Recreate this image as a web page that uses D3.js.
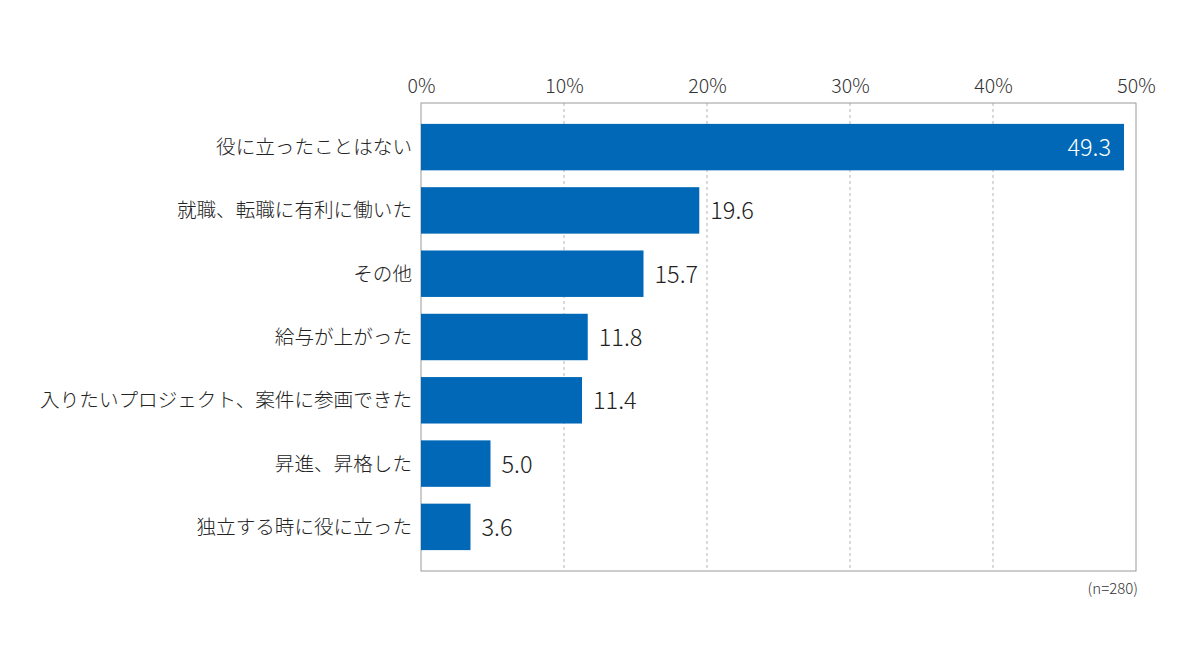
<!DOCTYPE html>
<html>
<head>
<meta charset="utf-8">
<script src="https://cdn.jsdelivr.net/npm/d3@7"></script>
<style>
  body { margin: 0; background: #fff; }
  svg { display: block; font-family: "Noto Sans CJK JP", "Noto Sans", sans-serif; }
</style>
</head>
<body>
<svg id="chart" width="1200" height="658"></svg>
<script>
var categories = [
    "役に立ったことはない",
    "就職、転職に有利に働いた",
    "その他",
    "給与が上がった",
    "入りたいプロジェクト、案件に参画できた",
    "昇進、昇格した",
    "独立する時に役に立った"
];
var values = [49.3, 19.6, 15.7, 11.8, 11.4, 5.0, 3.6];
var tickValues = [0, 10, 20, 30, 40, 50];
var sampleNote = "(n=280)";

var margin = { top: 103, left: 421, right: 64, bottom: 87 };
var width = 1200 - margin.left - margin.right;
var height = 658 - margin.top - margin.bottom;

var svg = d3.select("#chart");
var g = svg.append("g").attr("transform", `translate(${margin.left},${margin.top})`);

var x = d3.scaleLinear().domain([0, 50]).range([0, width]);
var y = d3.scaleBand().domain(categories).range([0, height])
    .paddingInner(0.266).paddingOuter(0.33);

// dashed grid lines
g.selectAll(".grid")
    .data(tickValues.slice(1, -1))
    .enter().append("line")
    .attr("x1", d => x(d)).attr("x2", d => x(d))
    .attr("y1", 0).attr("y2", height)
    .attr("stroke", "#b5b5b5")
    .attr("stroke-dasharray", "3,3");

// frame
g.append("rect")
    .attr("x", 0).attr("y", 0)
    .attr("width", width).attr("height", height)
    .attr("fill", "none")
    .attr("stroke", "#9a9a9a");

// top axis labels
var axis = d3.axisTop(x).tickValues(tickValues).tickFormat(d => d + "%").tickSize(0).tickPadding(10);
var axisG = g.append("g").call(axis);
axisG.select(".domain").remove();
axisG.selectAll("text")
    .attr("font-size", 19.5)
    .attr("font-weight", 300)
    .attr("fill", "#333")
    .attr("font-family", "\"Noto Sans CJK JP\", sans-serif");

// bars
g.selectAll(".bar")
    .data(values)
    .enter().append("rect")
    .attr("x", 0)
    .attr("y", (d, i) => y(categories[i]))
    .attr("width", d => x(d) - 2)
    .attr("height", y.bandwidth())
    .attr("fill", "#0068b7");

// category labels
g.selectAll(".cat")
    .data(categories)
    .enter().append("text")
    .attr("x", -9)
    .attr("y", d => y(d) + y.bandwidth() / 2)
    .attr("dy", "0.36em")
    .attr("text-anchor", "end")
    .attr("font-size", 19.6)
    .attr("font-weight", 300)
    .attr("fill", "#222")
    .text(d => d);

// value labels
g.selectAll(".val")
    .data(values)
    .enter().append("text")
    .attr("x", d => d > 40 ? x(d) - 15 : x(d) + 9)
    .attr("y", (d, i) => y(categories[i]) + y.bandwidth() / 2)
    .attr("dy", "0.38em")
    .attr("text-anchor", d => d > 40 ? "end" : "start")
    .attr("font-size", 23.5)
    .attr("font-weight", 300)
    .attr("fill", d => d > 40 ? "#fff" : "#222")
    .text(d => d.toFixed(1));

// sample size note
g.append("text")
    .attr("x", width + 2)
    .attr("y", height + 23)
    .attr("text-anchor", "end")
    .attr("font-size", 15)
    .attr("font-weight", 300)
    .attr("fill", "#333")
    .text(sampleNote);
</script>
</body>
</html>
